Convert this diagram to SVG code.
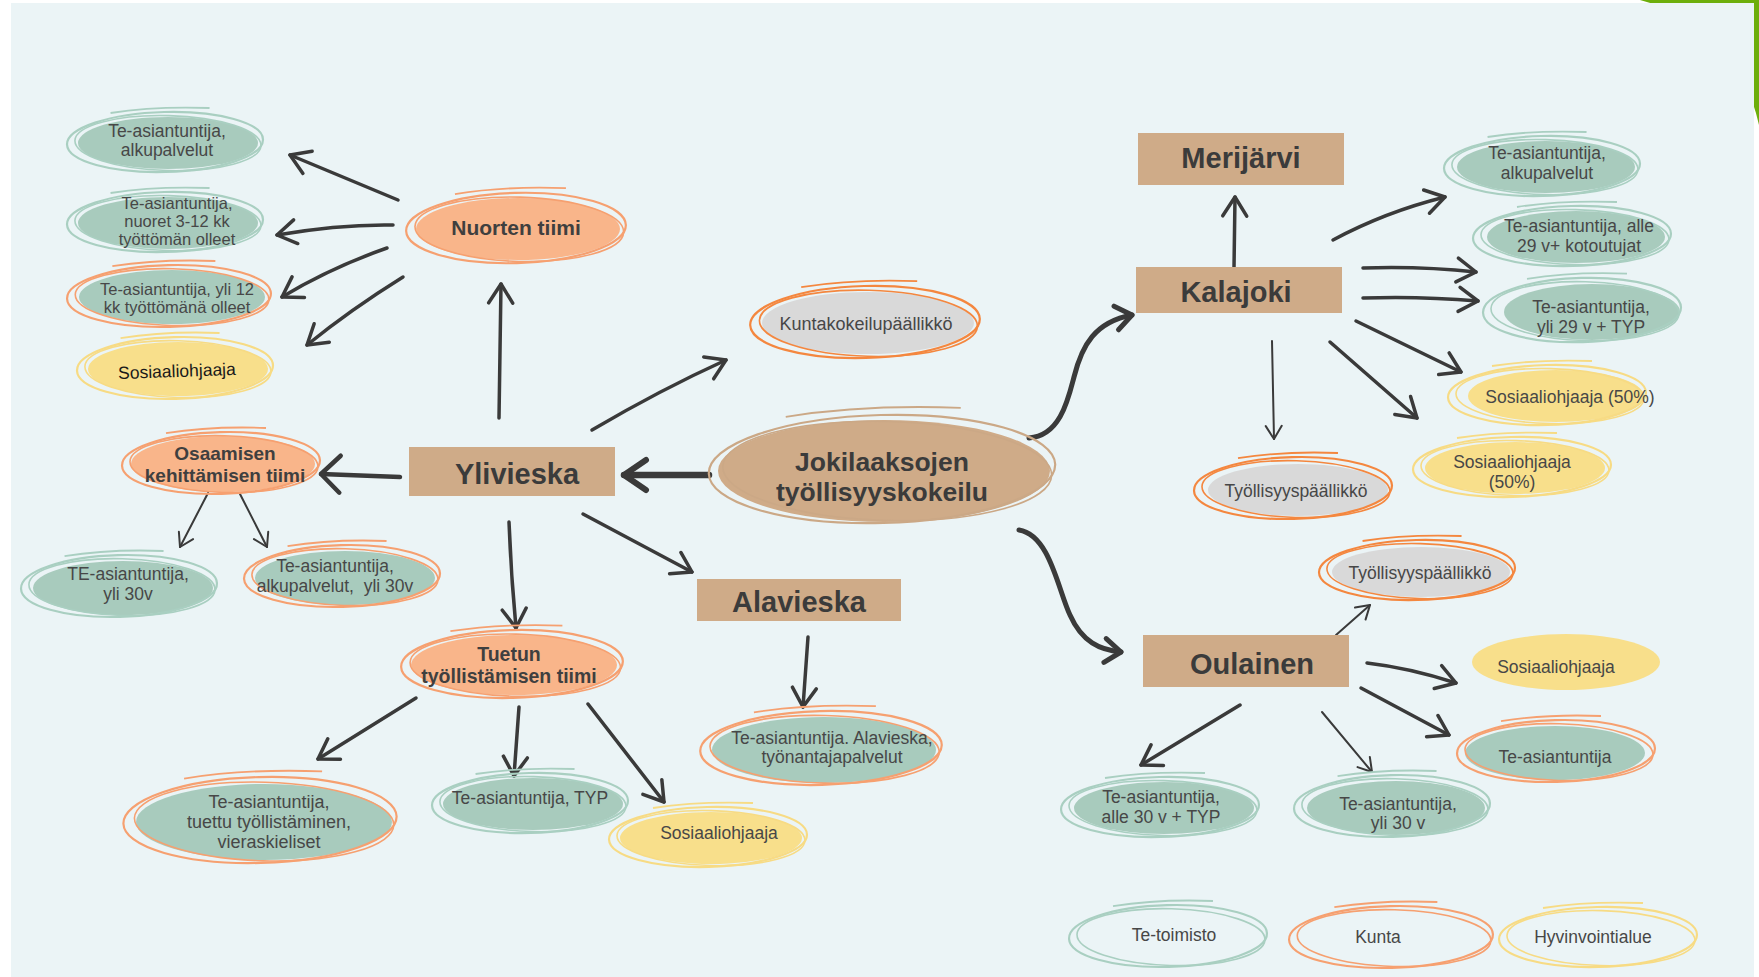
<svg xmlns="http://www.w3.org/2000/svg" width="1759" height="977" viewBox="0 0 1759 977">
<style>
.t{font-family:"Liberation Sans",Arial,sans-serif;font-size:17.5px;fill:#474747;text-anchor:middle}
.b{font-weight:bold;fill:#3f3f3f}
.big{font-size:29px;font-weight:bold;fill:#3b3b3b}
.f-te{fill:#A8CBBD}.f-or{fill:#F9B58A}.f-ye{fill:#F8DF8B}.f-gr{fill:#D9D9D9}.f-tan{fill:#CFAB88}
.s-te{stroke:#A9CFC1}.s-or{stroke:#F6A070}.s-ok{stroke:#F4873F}.s-ye{stroke:#F7DB84}.s-tan{stroke:#CBA886}
.c{fill:none;stroke:#3a3a3a;stroke-linecap:round;stroke-linejoin:round}
.c1{stroke-width:3.5;marker-end:url(#ahM)}
.c2{stroke-width:2;marker-end:url(#ahS)}
.c3{stroke-width:5;marker-end:url(#ahC)}
.c4{stroke-width:6.5;marker-end:url(#ahL)}
.c5{stroke-width:4.5;marker-end:url(#ahB)}
</style>
<defs>
<marker id="ahM" viewBox="-30 -20 40 40" markerWidth="40" markerHeight="40" refX="0" refY="0" orient="auto" markerUnits="userSpaceOnUse" overflow="visible"><path d="M-19,-12 L0,0 L-19,12" fill="none" stroke="#3a3a3a" stroke-width="3.5" stroke-linecap="round" stroke-linejoin="round"/></marker>
<marker id="ahS" viewBox="-30 -20 40 40" markerWidth="40" markerHeight="40" refX="0" refY="0" orient="auto" markerUnits="userSpaceOnUse" overflow="visible"><path d="M-13,-8 L0,0 L-13,8" fill="none" stroke="#3a3a3a" stroke-width="2" stroke-linecap="round" stroke-linejoin="round"/></marker>
<marker id="ahC" viewBox="-30 -20 40 40" markerWidth="40" markerHeight="40" refX="0" refY="0" orient="auto" markerUnits="userSpaceOnUse" overflow="visible"><path d="M-16,-12 L0,0 L-16,12" fill="none" stroke="#3a3a3a" stroke-width="5" stroke-linecap="round" stroke-linejoin="round"/></marker>
<marker id="ahL" viewBox="-30 -20 40 40" markerWidth="40" markerHeight="40" refX="0" refY="0" orient="auto" markerUnits="userSpaceOnUse" overflow="visible"><path d="M-22,-15 L0,0 L-22,15" fill="none" stroke="#3a3a3a" stroke-width="6" stroke-linecap="round" stroke-linejoin="round"/></marker>
<marker id="ahB" viewBox="-30 -20 40 40" markerWidth="40" markerHeight="40" refX="0" refY="0" orient="auto" markerUnits="userSpaceOnUse" overflow="visible"><path d="M-19,-18 L0,0 L-19,19" fill="none" stroke="#3a3a3a" stroke-width="4.5" stroke-linecap="round" stroke-linejoin="round"/></marker>
<g id="ring" fill="none">
<ellipse rx="99" ry="30" transform="rotate(-1.5)" stroke-width="2.2" vector-effect="non-scaling-stroke"/>
<ellipse cx="3" cy="1" rx="94" ry="27.5" transform="rotate(1.5)" stroke-width="1.6" vector-effect="non-scaling-stroke"/>
<path d="M-55,-29 Q-10,-36 45,-34" stroke-width="1.8" vector-effect="non-scaling-stroke"/>
</g>
</defs>

<path d="M1640,0 L1759,0 L1759,125 C1745,60 1700,15 1640,0 Z" fill="#6DAE0B"/>
<rect x="11" y="3" width="1743" height="974" fill="#EBF4F6"/>

<g id="connectors">
<path class="c c1" d="M398,200 L290,155"/>
<path class="c c1" d="M393,225 Q340,224 277,235"/>
<path class="c c1" d="M387,248 Q330,268 282,297"/>
<path class="c c1" d="M403,277 Q350,310 307,345"/>
<path class="c c1" d="M499,418 Q500,350 501,284"/>
<path class="c c5" d="M400,477 L321,474"/>
<path class="c c4" d="M709,475 L624,475"/>
<path class="c c1" d="M592,430 Q660,390 726,360"/>
<path class="c c1" d="M583,514 L692,572"/>
<path class="c c1" d="M509,522 Q511,575 516,628"/>
<path class="c c1" d="M416,698 L318,759"/>
<path class="c c1" d="M519,707 L514,776"/>
<path class="c c1" d="M588,704 L664,802"/>
<path class="c c1" d="M808,637 L803,707"/>
<path class="c c3" d="M1029,438 C1060,436 1068,400 1074,377 C1082,345 1095,322 1132,315"/>
<path class="c c3" d="M1019,530 C1050,535 1058,590 1070,615 C1082,642 1100,650 1121,652"/>
<path class="c c1" d="M1234,268 L1235,197"/>
<path class="c c1" d="M1333,240 Q1385,212 1445,197"/>
<path class="c c1" d="M1363,268 Q1420,266 1476,272"/>
<path class="c c1" d="M1363,298 Q1420,296 1478,301"/>
<path class="c c1" d="M1356,321 L1461,372"/>
<path class="c c1" d="M1330,342 L1417,418"/>
<path class="c c2" d="M1272,341 L1274,439"/>
<path class="c c2" d="M1336,635 L1370,605"/>
<path class="c c1" d="M1367,663 Q1410,668 1456,683"/>
<path class="c c1" d="M1361,688 L1449,735"/>
<path class="c c1" d="M1240,705 L1141,765"/>
<path class="c c2" d="M1322,712 L1372,772"/>
<path class="c c2" d="M208,493 L180,547"/>
<path class="c c2" d="M240,494 L267,547"/>
</g>

<g id="n-te-alkupalvelut-nuoret">
<ellipse class="f-te" cx="168" cy="143" rx="90" ry="26"/>
<use href="#ring" class="s-te" transform="translate(165,142) scale(0.99,1)"/>
<text class="t" x="167" y="137">Te-asiantuntija,</text>
<text class="t" x="167" y="156">alkupalvelut</text>
</g>
<g id="n-te-nuoret-3-12">
<ellipse class="f-te" cx="168" cy="223" rx="90" ry="26"/>
<use href="#ring" class="s-te" transform="translate(165,222) scale(0.99,1)"/>
<text class="t" x="177" y="209" style="font-size:16.5px">Te-asiantuntija,</text>
<text class="t" x="177" y="227" style="font-size:16.5px">nuoret 3-12 kk</text>
<text class="t" x="177" y="245" style="font-size:16.5px">työttömän olleet</text>
</g>
<g id="n-te-yli-12">
<ellipse class="f-te" cx="172" cy="297" rx="93" ry="27"/>
<use href="#ring" class="s-or" transform="translate(169,296) scale(1.03,1.03)"/>
<text class="t" x="177" y="295" style="font-size:16.5px">Te-asiantuntija, yli 12</text>
<text class="t" x="177" y="313" style="font-size:16.5px">kk työttömänä olleet</text>
</g>
<g id="n-sos-nuoret">
<ellipse class="f-ye" cx="178" cy="369" rx="90" ry="27"/>
<use href="#ring" class="s-ye" transform="translate(175,368) scale(0.99,1.03)"/>
<text class="t" x="177" y="377" transform="rotate(-2 177 372)" style="fill:#1a1a1a">Sosiaaliohjaaja</text>
</g>
<g id="n-nuorten-tiimi">
<ellipse class="f-or" cx="518" cy="229" rx="102" ry="31"/>
<use href="#ring" class="s-or" transform="translate(516,228) scale(1.11,1.17)"/>
<text class="t b" x="516" y="235" style="font-size:21px">Nuorten tiimi</text>
</g>
<g id="n-osaamisen">
<ellipse class="f-or" cx="223" cy="464" rx="92" ry="28"/>
<use href="#ring" class="s-or" transform="translate(221,463) scale(1,1.03)"/>
<text class="t b" x="225" y="460" style="font-size:19px">Osaamisen</text>
<text class="t b" x="225" y="482" style="font-size:19px">kehittämisen tiimi</text>
</g>
<g id="n-te-yli30v-1">
<ellipse class="f-te" cx="123" cy="588" rx="90" ry="27"/>
<use href="#ring" class="s-te" transform="translate(119,586) scale(0.99,1.03)"/>
<text class="t" x="128" y="580">TE-asiantuntija,</text>
<text class="t" x="128" y="600">yli 30v</text>
</g>
<g id="n-te-alku-yli30v">
<ellipse class="f-te" cx="345" cy="578" rx="90" ry="27"/>
<use href="#ring" class="s-or" transform="translate(342,576) scale(0.99,1.03)"/>
<text class="t" x="335" y="572">Te-asiantuntija,</text>
<text class="t" x="335" y="592" style="white-space:pre">alkupalvelut,  yli 30v</text>
</g>
<g id="n-ylivieska">
<rect class="f-tan" x="409" y="447" width="206" height="49"/>
<text class="t big" x="517" y="484">Ylivieska</text>
</g>
<g id="n-tuetun">
<ellipse class="f-or" cx="514" cy="665" rx="103" ry="30"/>
<use href="#ring" class="s-or" transform="translate(512,664) scale(1.12,1.13)"/>
<text class="t b" x="509" y="661" style="font-size:19.5px">Tuetun</text>
<text class="t b" x="509" y="683" style="font-size:19.5px">työllistämisen tiimi</text>
</g>
<g id="n-te-tuettu">
<ellipse class="f-te" cx="264" cy="822" rx="128" ry="38"/>
<use href="#ring" class="s-or" transform="translate(260,820) scale(1.38,1.43)"/>
<text class="t" x="269" y="808" style="font-size:18px">Te-asiantuntija,</text>
<text class="t" x="269" y="828" style="font-size:18px">tuettu työllistäminen,</text>
<text class="t" x="269" y="848" style="font-size:18px">vieraskieliset</text>
</g>
<g id="n-te-typ">
<ellipse class="f-te" cx="533" cy="804" rx="90" ry="26"/>
<use href="#ring" class="s-te" transform="translate(530,803) scale(0.99,1)"/>
<text class="t" x="530" y="804">Te-asiantuntija, TYP</text>
</g>
<g id="n-sos-tuetun">
<ellipse class="f-ye" cx="711" cy="838" rx="91" ry="26"/>
<use href="#ring" class="s-ye" transform="translate(708,837) scale(1,1)"/>
<text class="t" x="719" y="839">Sosiaaliohjaaja</text>
</g>
<g id="n-alavieska">
<rect class="f-tan" x="697" y="579" width="204" height="42"/>
<text class="t big" x="799" y="612">Alavieska</text>
</g>
<g id="n-te-alavieska">
<ellipse class="f-te" cx="824" cy="750" rx="112" ry="33"/>
<use href="#ring" class="s-or" transform="translate(821,748) scale(1.22,1.23)"/>
<text class="t" x="832" y="744">Te-asiantuntija. Alavieska,</text>
<text class="t" x="832" y="763">työnantajapalvelut</text>
</g>
<g id="n-kuntakokeilu">
<ellipse class="f-gr" cx="868" cy="323" rx="106" ry="31"/>
<use href="#ring" class="s-ok" transform="translate(865,322) scale(1.16,1.2)"/>
<text class="t" x="866" y="330" style="font-size:18px">Kuntakokeilupäällikkö</text>
</g>
<g id="n-center">
<ellipse class="f-tan" cx="884" cy="471" rx="166" ry="51"/>
<use href="#ring" class="s-tan" transform="translate(882,469) scale(1.75,1.8)"/>
<text class="t b" x="882" y="471" style="font-size:26.5px;fill:#3b3b3b">Jokilaaksojen</text>
<text class="t b" x="882" y="501" style="font-size:26.5px;fill:#3b3b3b">työllisyyskokeilu</text>
</g>
<g id="n-merijarvi">
<rect class="f-tan" x="1138" y="133" width="206" height="52"/>
<text class="t big" x="1241" y="168">Merijärvi</text>
</g>
<g id="n-kalajoki">
<rect class="f-tan" x="1136" y="267" width="206" height="46"/>
<text class="t big" x="1236" y="302">Kalajoki</text>
</g>
<g id="n-te-kal-alku">
<ellipse class="f-te" cx="1546" cy="167" rx="89" ry="26"/>
<use href="#ring" class="s-te" transform="translate(1542,166) scale(0.99,1)"/>
<text class="t" x="1547" y="159">Te-asiantuntija,</text>
<text class="t" x="1547" y="179">alkupalvelut</text>
</g>
<g id="n-te-kal-alle29">
<ellipse class="f-te" cx="1576" cy="237" rx="89" ry="26"/>
<use href="#ring" class="s-te" transform="translate(1572,236) scale(1,1)"/>
<text class="t" x="1579" y="232">Te-asiantuntija, alle</text>
<text class="t" x="1579" y="252">29 v+ kotoutujat</text>
</g>
<g id="n-te-kal-yli29">
<ellipse class="f-te" cx="1592" cy="312" rx="88" ry="28"/>
<use href="#ring" class="s-te" transform="translate(1582,310) scale(1,1.07)"/>
<text class="t" x="1591" y="313">Te-asiantuntija,</text>
<text class="t" x="1591" y="333">yli 29 v + TYP</text>
</g>
<g id="n-sos-kal-1">
<ellipse class="f-ye" cx="1556" cy="396" rx="88" ry="26"/>
<use href="#ring" class="s-ye" transform="translate(1547,395) scale(1,1)"/>
<text class="t" x="1570" y="403">Sosiaaliohjaaja (50%)</text>
</g>
<g id="n-sos-kal-2">
<ellipse class="f-ye" cx="1515" cy="468" rx="90" ry="26"/>
<use href="#ring" class="s-ye" transform="translate(1512,467) scale(1,1)"/>
<text class="t" x="1512" y="468">Sosiaaliohjaaja</text>
<text class="t" x="1512" y="488">(50%)</text>
</g>
<g id="n-tyollisyys-kal">
<ellipse class="f-gr" cx="1298" cy="490" rx="90" ry="26"/>
<use href="#ring" class="s-ok" transform="translate(1293,488) scale(1,1.03)"/>
<text class="t" x="1296" y="497">Työllisyyspäällikkö</text>
</g>
<g id="n-oulainen">
<rect class="f-tan" x="1143" y="635" width="206" height="52"/>
<text class="t big" x="1252" y="674">Oulainen</text>
</g>
<g id="n-tyollisyys-oul">
<ellipse class="f-gr" cx="1421" cy="572" rx="89" ry="25"/>
<use href="#ring" class="s-ok" transform="translate(1417,570) scale(0.99,1)"/>
<text class="t" x="1420" y="579">Työllisyyspäällikkö</text>
</g>
<g id="n-sos-oul">
<ellipse class="f-ye" cx="1566" cy="662" rx="94" ry="28"/>
<text class="t" x="1556" y="673">Sosiaaliohjaaja</text>
</g>
<g id="n-te-oul">
<ellipse class="f-te" cx="1555" cy="753" rx="90" ry="27"/>
<use href="#ring" class="s-or" transform="translate(1556,751) scale(1,1.03)"/>
<text class="t" x="1555" y="763">Te-asiantuntija</text>
</g>
<g id="n-te-oul-alle30">
<ellipse class="f-te" cx="1164" cy="808" rx="90" ry="26"/>
<use href="#ring" class="s-te" transform="translate(1160,807) scale(1,1)"/>
<text class="t" x="1161" y="803">Te-asiantuntija,</text>
<text class="t" x="1161" y="823">alle 30 v + TYP</text>
</g>
<g id="n-te-oul-yli30">
<ellipse class="f-te" cx="1396" cy="808" rx="89" ry="27"/>
<use href="#ring" class="s-te" transform="translate(1392,806) scale(0.99,1.03)"/>
<text class="t" x="1398" y="810">Te-asiantuntija,</text>
<text class="t" x="1398" y="829">yli 30 v</text>
</g>
<g id="legend-te-toimisto">
<use href="#ring" class="s-te" transform="translate(1168,936) scale(1,1.03)"/>
<text class="t" x="1174" y="941">Te-toimisto</text>
</g>
<g id="legend-kunta">
<use href="#ring" class="s-or" transform="translate(1391,937) scale(1.03,1.03)"/>
<text class="t" x="1378" y="943">Kunta</text>
</g>
<g id="legend-hyvinvointialue">
<use href="#ring" class="s-ye" transform="translate(1598,937) scale(1,1)"/>
<text class="t" x="1593" y="943">Hyvinvointialue</text>
</g>
</svg>
